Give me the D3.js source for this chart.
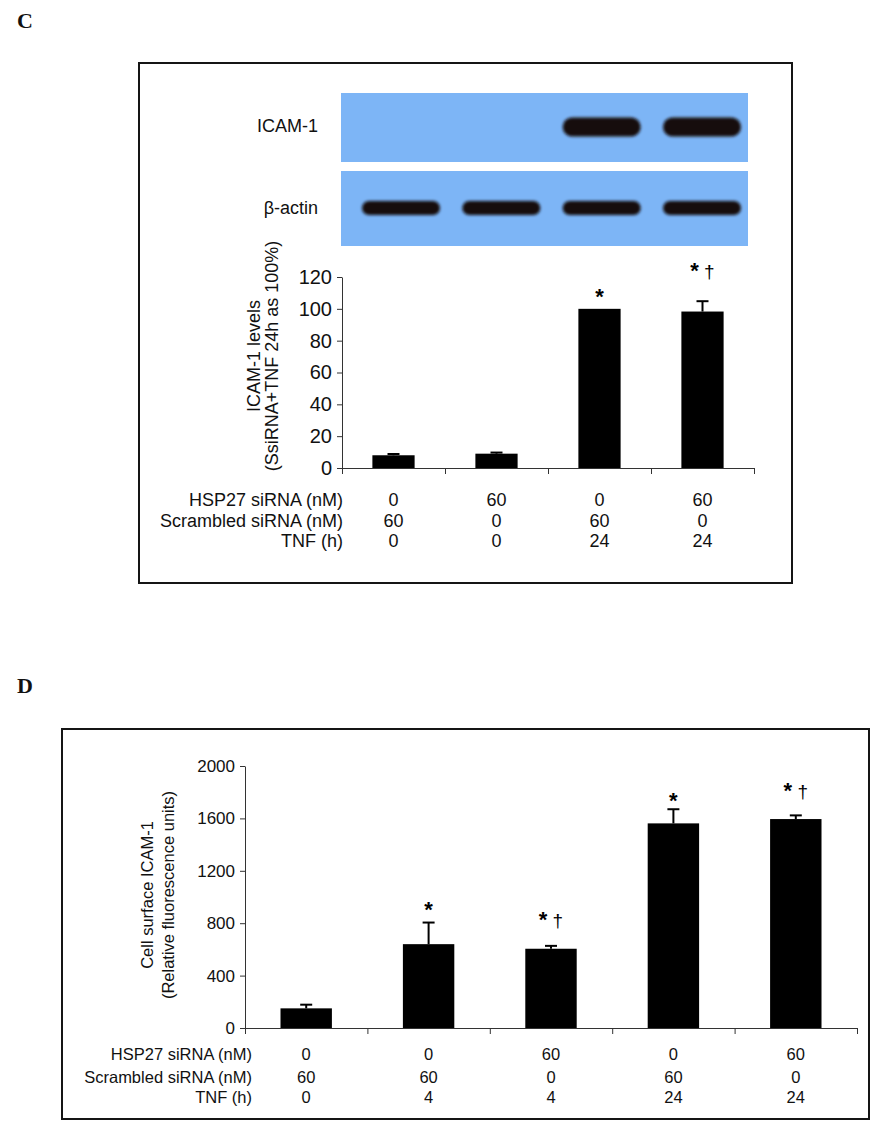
<!DOCTYPE html>
<html><head><meta charset="utf-8">
<script src="https://cdn.jsdelivr.net/npm/d3@7"></script>
<style>
body{margin:0;background:#fff}
svg text{font-family:"Liberation Sans",Arial,sans-serif;fill:#111}
</style></head>
<body>
<svg id="fig" width="890" height="1139"></svg>
<script>
// ---------- Panel C data ----------
const groupsC = ["C1","C2","C3","C4"];
const valuesC = [8, 9, 100, 98.3];
const errorsC = [0.8, 0.7, 0, 6.5];
const marksC = ["", "", "*", "*†"];
const markHeightC = [null, null, 110, 126];
const ticksC = [0, 20, 40, 60, 80, 100, 120];
const hspC = ["0", "60", "0", "60"];
const scrambledC = ["60", "0", "60", "0"];
const tnfC = ["0", "0", "24", "24"];
const icamBands = [0, 0, 1, 1];
const actinBands = [1, 1, 1, 1];
const rowLabels = ["HSP27 siRNA (nM)", "Scrambled siRNA (nM)", "TNF (h)"];

// ---------- Panel D data ----------
const groupsD = ["D1","D2","D3","D4","D5"];
const valuesD = [150, 640, 605, 1562, 1595];
const errorsD = [28, 165, 22, 108, 28];
const marksD = ["", "*", "*†", "*", "*†"];
const markHeightD = [null, 930, 853, 1766, 1840];
const ticksD = [0, 400, 800, 1200, 1600, 2000];
const hspD = ["0", "0", "60", "0", "60"];
const scrambledD = ["60", "60", "0", "60", "0"];
const tnfD = ["0", "4", "4", "24", "24"];

const svg = d3.select("#fig");
const defs = svg.append("defs");
defs.append("filter").attr("id","blur").attr("x","-20%").attr("y","-50%").attr("width","140%").attr("height","200%")
  .append("feGaussianBlur").attr("stdDeviation", 1.6);

// panel letters
svg.append("text").attr("x",17).attr("y",28).text("C")
  .style("font-family","'Liberation Serif','Times New Roman',serif").style("font-weight","bold").style("font-size","22px");
svg.append("text").attr("x",17).attr("y",693).text("D")
  .style("font-family","'Liberation Serif','Times New Roman',serif").style("font-weight","bold").style("font-size","22px");

// frames
svg.append("rect").attr("x",139).attr("y",63).attr("width",653).attr("height",520)
  .attr("fill","none").attr("stroke","#151515").attr("stroke-width",2);
svg.append("rect").attr("x",62).attr("y",729).attr("width",807).attr("height",390)
  .attr("fill","none").attr("stroke","#151515").attr("stroke-width",2);

// ---------- Blots ----------
const lane = d3.scalePoint().domain(groupsC).range([401, 702]);
function blot(y0, h, bandY, bandH, bands, label, labelY){
  svg.append("rect").attr("x",341).attr("y",y0).attr("width",407).attr("height",h).attr("fill","#7db5f6");
  svg.append("g").attr("filter","url(#blur)")
    .selectAll("rect").data(groupsC.filter((g,i)=>bands[i]>0)).join("rect")
    .attr("x", d=>lane(d)-39).attr("y", bandY-bandH/2).attr("width",78).attr("height",bandH)
    .attr("rx", bandH/2).attr("fill","#120f0a");
  svg.append("text").attr("x",318).attr("y",labelY).attr("text-anchor","end")
    .style("font-size","18px").text(label);
}
blot(93, 69, 127, 19, icamBands, "ICAM-1", 132);
blot(171, 75, 208, 14, actinBands, "β-actin", 214);

// ---------- generic bar chart ----------
function barChart(o){
  const x = d3.scaleBand().domain(o.groups).range([o.x0, o.x1]).paddingInner(o.pad).paddingOuter(o.pad/2);
  const y = d3.scaleLinear().domain([0, o.max]).range([o.y0, o.y1]);
  const g = svg.append("g");
  // y axis
  const ya = g.append("g").attr("transform",`translate(${o.x0},0)`)
    .call(d3.axisLeft(y).tickValues(o.ticks).tickFormat(d3.format("d")).tickSize(5).tickPadding(5).tickSizeOuter(0));
  ya.select(".domain").attr("stroke","#333");
  ya.selectAll(".tick line").attr("stroke","#333");
  ya.selectAll(".tick text").style("font-size",o.tfs+"px").style("font-family","'Liberation Sans',Arial,sans-serif").attr("fill","#111");
  // x axis with ticks at band boundaries
  const bounds = d3.scaleLinear().domain([0, o.groups.length]).range([o.x0, o.x1]);
  const xa = g.append("g").attr("transform",`translate(0,${o.y0})`)
    .call(d3.axisBottom(bounds).tickValues(d3.range(o.groups.length+1)).tickSize(6).tickFormat("").tickSizeOuter(0));
  xa.select(".domain").attr("stroke","#333");
  xa.selectAll(".tick line").attr("stroke","#333");
  // bars
  g.selectAll(".bar").data(o.groups).join("rect")
    .attr("x", d=>x(d)).attr("width", x.bandwidth())
    .attr("y", (d,i)=>y(o.values[i])).attr("height",(d,i)=>o.y0-y(o.values[i]))
    .attr("fill","#000");
  // error bars
  const eb = g.selectAll(".err").data(o.groups.filter((d,i)=>o.errors[i]>0)).join("g");
  eb.append("line")
    .attr("x1", d=>x(d)+x.bandwidth()/2).attr("x2", d=>x(d)+x.bandwidth()/2)
    .attr("y1", d=>y(o.values[o.groups.indexOf(d)]))
    .attr("y2", d=>{const i=o.groups.indexOf(d); return y(o.values[i]+o.errors[i]);})
    .attr("stroke","#000").attr("stroke-width",2);
  eb.append("line")
    .attr("x1", d=>x(d)+x.bandwidth()/2-6).attr("x2", d=>x(d)+x.bandwidth()/2+6)
    .attr("y1", d=>{const i=o.groups.indexOf(d); return y(o.values[i]+o.errors[i]);})
    .attr("y2", d=>{const i=o.groups.indexOf(d); return y(o.values[i]+o.errors[i]);})
    .attr("stroke","#000").attr("stroke-width",2);
  // significance marks
  o.groups.forEach((d,i)=>{
    if(!o.marks[i]) return;
    const t = g.append("text").attr("x", x(d)+x.bandwidth()/2).attr("y", y(o.markH[i]) + 11)
      .attr("text-anchor","middle").attr("fill","#000");
    t.append("tspan").text("*").style("font-size","22px").style("font-weight","bold").attr("fill","#000");
    if(o.marks[i].length>1) t.append("tspan").text(" †").style("font-size","19px").attr("fill","#000");
  });
  // table
  const rows = [o.hsp, o.scr, o.tnf];
  rows.forEach((r,ri)=>{
    g.append("text").attr("x", o.labelX).attr("y", o.rowY[ri]).attr("text-anchor","end")
      .style("font-size", o.fs+"px").text(rowLabels[ri]);
    g.selectAll(null).data(r).join("text")
      .attr("x",(v,i)=>x(o.groups[i])+x.bandwidth()/2).attr("y", o.rowY[ri])
      .attr("text-anchor","middle").style("font-size", o.fs+"px").text(v=>v);
  });
  // y label
  o.ylab.forEach((s,li)=>{
    g.append("text").attr("transform",`translate(${o.ylabX[li]},${o.ylabY}) rotate(-90)`)
      .attr("text-anchor","middle").style("font-size", o.fs+"px").text(s);
  });
}

barChart({groups:groupsC, values:valuesC, errors:errorsC, marks:marksC, markH:markHeightC,
  ticks:ticksC, max:120, x0:342, x1:754, y0:468, y1:277, pad:0.59, fs:18, tfs:20,
  hsp:hspC, scr:scrambledC, tnf:tnfC, labelX:343, rowY:[506,527,547],
  ylab:["ICAM-1 levels","(SsiRNA+TNF 24h as 100%)"], ylabX:[260,278], ylabY:356});

barChart({groups:groupsD, values:valuesD, errors:errorsD, marks:marksD, markH:markHeightD,
  ticks:ticksD, max:2000, x0:245, x1:857, y0:1028, y1:766, pad:0.58, fs:16.5, tfs:17,
  hsp:hspD, scr:scrambledD, tnf:tnfD, labelX:252, rowY:[1060,1083,1103],
  ylab:["Cell surface ICAM-1","(Relative fluorescence units)"], ylabX:[153,174], ylabY:895});
</script>
</body></html>
